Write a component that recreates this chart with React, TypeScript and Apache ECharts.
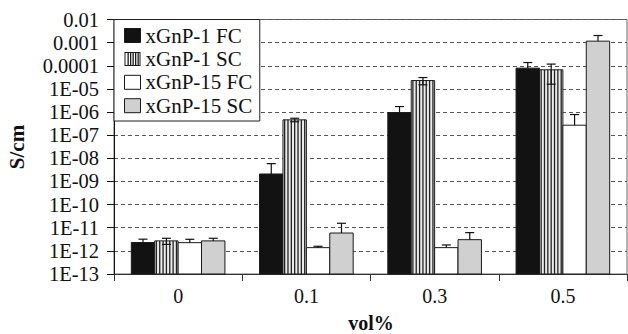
import React, { useEffect, useRef } from 'react';
import * as echarts from 'echarts';

const categories = ['0', '0.1', '0.3', '0.5'];
const seriesNames = ['xGnP-1 FC', 'xGnP-1 SC', 'xGnP-15 FC', 'xGnP-15 SC'];

const gnp1FC = [2.3e-12, 2.1e-9, 9.5e-7, 7.9e-5];
const gnp1FCErr = [0.9e-12, 3.8e-9, 7.8e-7, 5.9e-5];
const gnp1SC = [2.7e-12, 4.6e-7, 2.3e-5, 6.7e-5];
const gnp1SCErr = [0.8e-12, 0.8e-7, 0.8e-5, 5.1e-5];
const gnp15FC = [2.26e-12, 1.38e-12, 1.38e-12, 2.7e-7];
const gnp15FCErr = [0.9e-12, 0.2e-12, 0.42e-12, 5.1e-7];
const gnp15SC = [2.7e-12, 5.9e-12, 3.05e-12, 1.16e-3];
const gnp15SCErr = [0.8e-12, 9.7e-12, 3.1e-12, 8.7e-4];

const yMin = 1e-13;
const yMax = 0.01;

const FONT = "'Liberation Serif', 'Times New Roman', serif";
const CAT_GAP = 0.27;

const fmtTick = (v: number) => {
  const e = Math.round(Math.log10(v));
  if (e >= -4) return e >= 0 ? String(Math.pow(10, e)) : '0.' + '0'.repeat(-e - 1) + '1';
  return '1E-' + String(-e).padStart(2, '0');
};

const STRIPE_ICON =
  'path://M0 0H16V14H0Z M1 1V13H15V1Z M3 1H4.3V13H3Z M5.5 1H6.8V13H5.5Z M8 1H9.3V13H8Z M10.5 1H11.8V13H10.5Z M13 1H14.3V13H13Z';

function makeSeries(k: number, values: number[], errs: number[], fill: string, striped: boolean) {
  return {
    type: 'custom',
    name: seriesNames[k],
    coordinateSystem: 'cartesian2d',
    data: values.map((v, i) => [i, v, errs[i]]),
    encode: { x: 0, y: 1 },
    itemStyle: { color: fill, borderColor: '#1a1a1a', borderWidth: 1 },
    z: 2,
    renderItem: (params: any, api: any) => {
      const i = api.value(0);
      const v = api.value(1);
      const d = api.value(2);
      const top = api.coord([i, v]);
      const base = api.coord([i, yMin]);
      const band = params.coordSys.width / categories.length;
      const w = (band * (1 - CAT_GAP)) / 4;
      const x0 = top[0] - 2 * w + k * w;
      const children: any[] = [];
      children.push({
        type: 'rect',
        shape: { x: x0, y: top[1], width: w, height: base[1] - top[1] },
        style: { fill: striped ? '#ebebeb' : fill, stroke: '#1a1a1a', lineWidth: 1 },
      });
      if (striped) {
        const n = 7;
        const p = w / n;
        for (let j = 0; j < n; j++) {
          children.push({
            type: 'rect',
            shape: { x: x0 + p * (j + 0.5) - 0.65, y: top[1], width: 1.3, height: base[1] - top[1] },
            style: { fill: '#222' },
          });
        }
      }
      const cx = x0 + w / 2;
      const cap = 4.5;
      const errTop = api.coord([i, v + d])[1];
      children.push({
        type: 'line',
        shape: { x1: cx, y1: top[1], x2: cx, y2: errTop },
        style: { stroke: '#111', lineWidth: 1.2 },
      });
      children.push({
        type: 'line',
        shape: { x1: cx - cap, y1: errTop, x2: cx + cap, y2: errTop },
        style: { stroke: '#111', lineWidth: 1.2 },
      });
      if (striped && v - d > 0) {
        const errBot = api.coord([i, v - d])[1];
        children.push({
          type: 'line',
          shape: { x1: cx, y1: top[1], x2: cx, y2: errBot },
          style: { stroke: '#111', lineWidth: 1.2 },
        });
        children.push({
          type: 'line',
          shape: { x1: cx - cap, y1: errBot, x2: cx + cap, y2: errBot },
          style: { stroke: '#111', lineWidth: 1.2 },
        });
      }
      return { type: 'group', children };
    },
  };
}

export default function App() {
  const ref = useRef<HTMLDivElement>(null);
  useEffect(() => {
    if (!ref.current) return;
    const chart = echarts.init(ref.current, undefined, { renderer: 'svg' });
    chart.setOption({
      animation: false,
      backgroundColor: '#fff',
      grid: {
        left: 114,
        top: 19.5,
        width: 513,
        height: 254.5,
        show: true,
        borderColor: '#666',
        borderWidth: 1,
        backgroundColor: 'transparent',
      },
      xAxis: {
        type: 'category',
        data: categories,
        axisLine: { show: true, lineStyle: { color: '#333', width: 1 } },
        axisTick: { show: true, length: 7, lineStyle: { color: '#333' } },
        axisLabel: { fontFamily: FONT, fontSize: 20, color: '#111', margin: 12 },
        splitLine: { show: false },
      },
      yAxis: {
        type: 'log',
        logBase: 10,
        min: yMin,
        max: yMax,
        interval: 1,
        axisLine: { show: true, lineStyle: { color: '#111', width: 1 } },
        axisTick: { show: true, length: 7, lineStyle: { color: '#111' } },
        axisLabel: { fontFamily: FONT, fontSize: 20.5, color: '#111', margin: 15, formatter: fmtTick },
        splitLine: { show: true, lineStyle: { color: '#555', type: [4, 3], width: 1 } },
        minorTick: { show: false },
      },
      legend: {
        orient: 'vertical',
        left: 114,
        top: 19.5,
        icon: 'rect',
        itemWidth: 16,
        itemHeight: 14,
        itemGap: 2.4,
        padding: [5.5, 7.5, 4.8, 10],
        borderColor: '#222',
        borderWidth: 1,
        backgroundColor: '#fff',
        itemStyle: { borderColor: '#1a1a1a', borderWidth: 1 },
        textStyle: { fontFamily: FONT, fontSize: 21, color: '#111', lineHeight: 21 },
        data: [
          { name: seriesNames[0] },
          { name: seriesNames[1], icon: STRIPE_ICON, itemStyle: { color: '#1a1a1a', borderWidth: 0 } },
          { name: seriesNames[2] },
          { name: seriesNames[3] },
        ],
      },
      graphic: [
        {
          type: 'text',
          x: 17,
          y: 147,
          rotation: Math.PI / 2,
          style: { text: 'S/cm', font: `bold 21px ${FONT}`, fill: '#111', align: 'center', verticalAlign: 'middle' },
        },
        {
          type: 'text',
          x: 371,
          y: 323,
          style: { text: 'vol%', font: `bold 20px ${FONT}`, fill: '#111', align: 'center', verticalAlign: 'middle' },
        },
      ],
      series: [
        makeSeries(0, gnp1FC, gnp1FCErr, '#121212', false),
        makeSeries(1, gnp1SC, gnp1SCErr, '#ebebeb', true),
        makeSeries(2, gnp15FC, gnp15FCErr, '#ffffff', false),
        makeSeries(3, gnp15SC, gnp15SCErr, '#d0d0d0', false),
      ],
    });
    return () => chart.dispose();
  }, []);
  return (
    <div
      ref={ref}
      style={{ position: 'absolute', left: 0, top: 0, width: 628, height: 334 }}
    />
  );
}
